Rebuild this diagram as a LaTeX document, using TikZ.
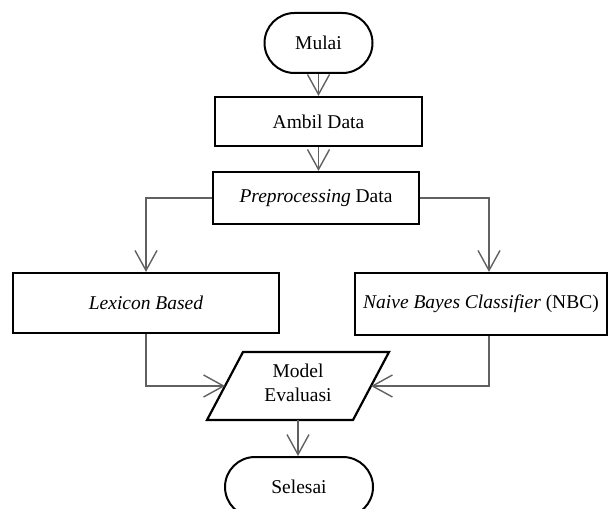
\documentclass[tikz,border=0pt]{standalone}
\usepackage{fontspec}
\setmainfont{Liberation Serif}
\usetikzlibrary{shapes.misc,arrows.meta,calc}
\begin{document}
\begin{tikzpicture}[x=1pt,y=-1pt,
  font=\fontsize{19.5}{22}\selectfont,
  boxst/.style={draw=black,line width=2.2pt,minimum width=#1,inner sep=0pt},
  term/.style={rounded rectangle,draw=black,line width=2pt,inner sep=0pt},
  conn/.style={draw=black!62,line width=1.6pt,-{Straight Barb[length=20pt,width=22pt,line width=1.4pt]}}]
\useasboundingbox (0,0) rectangle (609,508);
\clip (0,0) rectangle (609,508);
\node[term,minimum width=108pt,minimum height=60pt] (mulai) at (318.5,43) {Mulai};
\node[boxst=207pt,minimum height=49pt] (ambil) at (318.5,121.5) {Ambil Data};
\node[boxst=206pt,minimum height=52pt] (prep) at (316,198) {\textit{Preprocessing} Data};
\node[boxst=266pt,minimum height=60pt] (lex) at (146,303) {\textit{Lexicon Based}};
\node[boxst=252pt,minimum height=62pt] (nbc) at (481,304) {\textit{Naive Bayes Classifier} (NBC)};
\node[align=center,inner sep=0pt,font=\fontsize{19.5}{24}\selectfont] (model) at (298,383) {Model\\Evaluasi};
\coordinate (p1) at (207,420);
\coordinate (p2) at (243,352);
\coordinate (p3) at (389,352);
\coordinate (p4) at (353,420);
\coordinate (mL) at (225,386);
\coordinate (mR) at (371,386);
\coordinate (mB) at (298,420);
\draw[line width=2.2pt,line join=miter] (p1) -- (p2) -- (p3) -- (p4) -- cycle;
\node[term,minimum width=148pt,minimum height=60pt] (selesai) at (299,487) {Selesai};
\coordinate (nbcTop) at ($(nbc.north)+(8,0)$);
\coordinate (nbcBot) at ($(nbc.south)+(8,0)$);
\draw[conn] (mulai.south) -- (mulai.south |- ambil.north);
\draw[conn] (ambil.south) -- (ambil.south |- prep.north);
\draw[conn] (prep.west) -| (lex.north);
\draw[conn] (prep.east) -| (nbcTop);
\draw[conn] (lex.south) |- (mL);
\draw[conn] (nbcBot) |- (mR);
\draw[conn] (mB) -- (mB |- selesai.north);
\end{tikzpicture}
\end{document}
